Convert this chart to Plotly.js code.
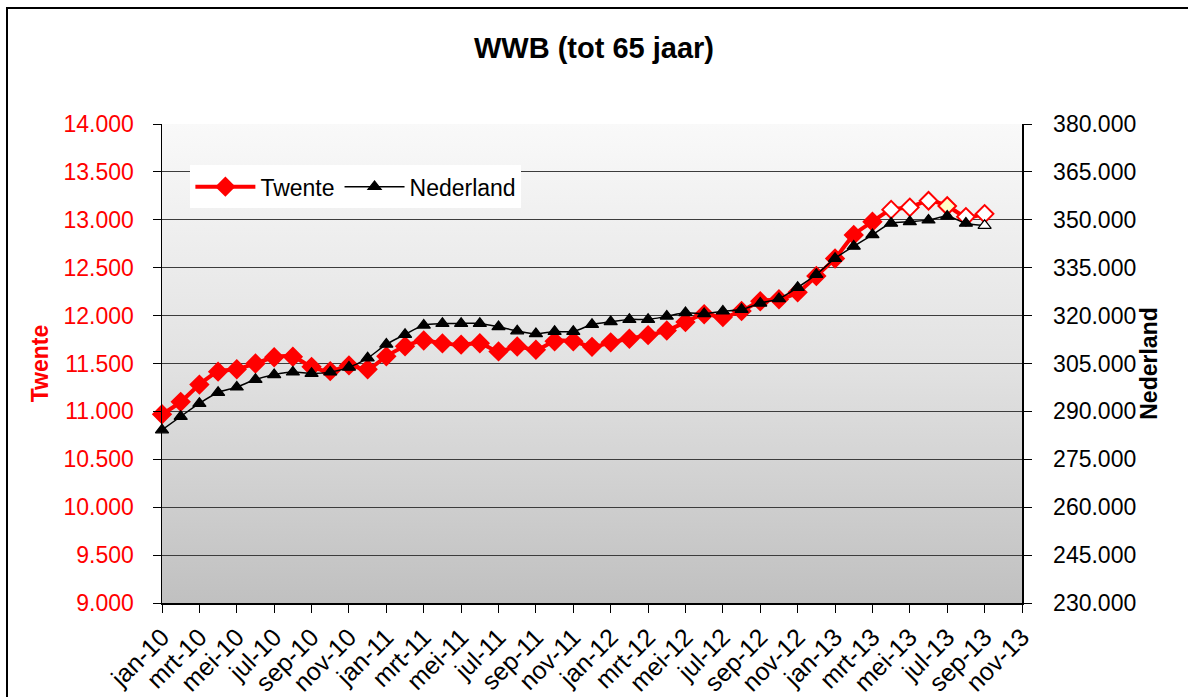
<!DOCTYPE html>
<html><head><meta charset="utf-8">
<script src="https://cdn.plot.ly/plotly-3.0.1.min.js"></script>
<style>
html,body{margin:0;padding:0;background:#fff;overflow:hidden}
#chart{width:1188px;height:697px}
#frame{position:absolute;left:6px;top:7px;width:1200px;height:720px;border-left:2px solid #000;border-top:2px solid #000;pointer-events:none}
</style>
</head><body><div id="chart"></div><div id="frame"></div>
<script>
// Month categories (jan-10 .. nov-13)
const months = ['jan-10','feb-10','mrt-10','apr-10','mei-10','jun-10','jul-10','aug-10','sep-10','okt-10','nov-10','dec-10',
  'jan-11','feb-11','mrt-11','apr-11','mei-11','jun-11','jul-11','aug-11','sep-11','okt-11','nov-11','dec-11',
  'jan-12','feb-12','mrt-12','apr-12','mei-12','jun-12','jul-12','aug-12','sep-12','okt-12','nov-12','dec-12',
  'jan-13','feb-13','mrt-13','apr-13','mei-13','jun-13','jul-13','aug-13','sep-13','okt-13','nov-13'];

// Twente (left axis), jan-10 .. sep-13
const twente = [10970,11100,11280,11415,11440,11500,11565,11570,11465,11420,11480,11440,
  11575,11680,11740,11710,11697,11711,11626,11677,11643,11731,11731,11674,
  11721,11759,11796,11844,11932,12014,11986,12048,12150,12170,12243,12414,
  12596,12842,12979,13106,13130,13199,13144,13031,13062];

// Nederland (right axis), jan-10 .. sep-13
const nederland = [284200,288400,292500,295900,297600,300000,301500,302300,301900,302300,303800,306700,
  311000,314100,317000,317500,317550,317550,316500,315200,314300,315000,315000,317200,
  318100,318800,318800,319800,320900,320600,321400,321900,323900,325300,328800,332900,
  337900,341700,345300,348900,349400,349900,351100,348900,348200];

// Months whose markers are drawn open (provisional figures)
const openTwente = ['apr-13','mei-13','jun-13','jul-13','aug-13','sep-13'];
const highlightTwente = ['jul-13'];
const openNederland = ['sep-13'];

const leftTicks = [9000,9500,10000,10500,11000,11500,12000,12500,13000,13500,14000];
const rightTicks = [230000,245000,260000,275000,290000,305000,320000,335000,350000,365000,380000];
const xTickLabels = months.filter((m,i)=> i%2===0);

const xT = months.slice(0, twente.length);
const xN = months.slice(0, nederland.length);

const twFill = xT.map(m => highlightTwente.includes(m) ? '#ffffc8' : (openTwente.includes(m) ? '#ffffff' : '#ff0000'));
const nlFill = xN.map(m => openNederland.includes(m) ? '#ffffff' : '#000000');

const FONT = 'Liberation Sans, Arial, Helvetica, sans-serif';

const grad = '<svg xmlns="http://www.w3.org/2000/svg" width="100" height="100" preserveAspectRatio="none">' +
  '<defs><linearGradient id="g" x1="0" y1="0" x2="0" y2="1">' +
  '<stop offset="0" stop-color="#f9f9f9"/><stop offset="0.5" stop-color="#e2e2e2"/><stop offset="1" stop-color="#c0c0c0"/>' +
  '</linearGradient></defs><rect width="100" height="100" fill="url(#g)"/></svg>';

const traces = [
  {
    x: xT, y: twente, name: 'Twente', type: 'scatter', mode: 'lines+markers',
    yaxis: 'y', cliponaxis: false,
    line: {color: '#ff0000', width: 4, shape: 'spline', smoothing: 0.8},
    marker: {symbol: 'diamond', size: 13.5, color: twFill, line: {color: '#ff0000', width: 2}}
  },
  {
    x: xN, y: nederland, name: 'Nederland', type: 'scatter', mode: 'lines+markers',
    yaxis: 'y2', cliponaxis: false,
    line: {color: '#000000', width: 1.5, shape: 'spline', smoothing: 0.8},
    marker: {symbol: 'triangle-up', size: 11.5, color: nlFill, line: {color: '#000000', width: 1.2}}
  }
];

const layout = {
  width: 1188, height: 697,
  margin: {l: 162, r: 166, t: 124, b: 94, pad: 0},
  paper_bgcolor: '#ffffff',
  plot_bgcolor: 'rgba(0,0,0,0)',
  separators: ',.',
  font: {family: FONT, size: 23, color: '#000'},
  title: {text: '<b>WWB (tot 65 jaar)</b>', font: {family: FONT, size: 29, color: '#000'},
          x: 0.5, xref: 'container', y: 1 - 48/697, yref: 'container', yanchor: 'middle'},
  showlegend: true,
  legend: {orientation: 'h', x: 0.033, y: 0.914, xanchor: 'left', yanchor: 'top',
           bgcolor: '#ffffff', borderwidth: 0, font: {family: FONT, size: 23, color: '#000'},
           itemwidth: 60, tracegroupgap: 0},
  xaxis: {
    type: 'category', categoryorder: 'array', categoryarray: months,
    range: [0, months.length - 1],
    tickmode: 'array', tickvals: xTickLabels, ticktext: xTickLabels,
    tickangle: -45, ticks: 'outside', ticklen: 8, tickcolor: '#000', tickwidth: 1,
    showline: true, linecolor: '#000', linewidth: 1.5, showgrid: false, zeroline: false,
    tickfont: {family: FONT, size: 25, color: '#000'}
  },
  yaxis: {
    range: [9000, 14000], tickmode: 'array', tickvals: leftTicks, tickformat: ',d',
    ticks: 'outside', ticklen: 8, tickcolor: '#000', ticklabelstandoff: 14,
    showline: true, linecolor: '#000', linewidth: 1.5,
    showgrid: true, gridcolor: '#3c3c3c', gridwidth: 1, zeroline: false,
    tickfont: {family: FONT, size: 23, color: '#ff0000'},
    title: {text: '<b>Twente</b>', font: {family: FONT, size: 23, color: '#ff0000'}, standoff: 8}
  },
  yaxis2: {
    overlaying: 'y', side: 'right',
    range: [230000, 380000], tickmode: 'array', tickvals: rightTicks, tickformat: ',d',
    ticks: 'outside', ticklen: 8, tickcolor: '#000', ticklabelstandoff: 17,
    showline: true, linecolor: '#000', linewidth: 1.5, showgrid: false, zeroline: false,
    tickfont: {family: FONT, size: 23, color: '#000'},
    title: {text: '<b>Nederland</b>', font: {family: FONT, size: 23, color: '#000'}, standoff: 3}
  },
  images: [{
    source: 'data:image/svg+xml;charset=utf-8,' + encodeURIComponent(grad),
    xref: 'paper', yref: 'paper', x: 0, y: 1, sizex: 1, sizey: 1,
    xanchor: 'left', yanchor: 'top', sizing: 'stretch', layer: 'below'
  }]
};

Plotly.newPlot('chart', traces, layout, {displayModeBar: false, staticPlot: true});
</script></body></html>
